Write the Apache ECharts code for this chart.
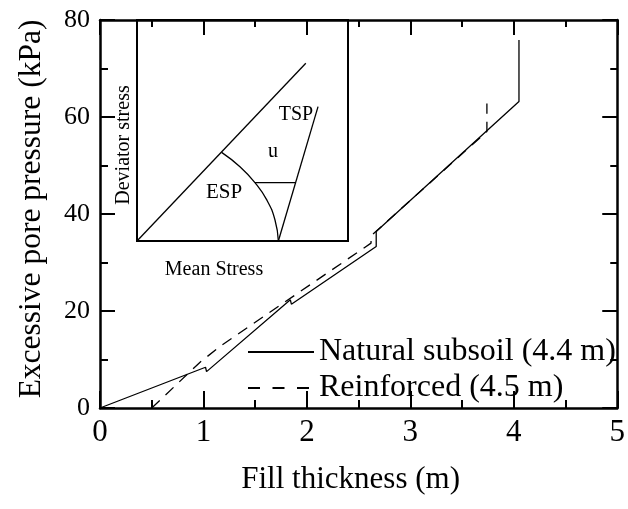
<!DOCTYPE html>
<html>
<head>
<meta charset="utf-8">
<script src="https://cdn.jsdelivr.net/npm/echarts@6/dist/echarts.min.js"></script>
<style>html,body{margin:0;padding:0;background:#fff;}#c{width:628px;height:509px;}</style>
</head>
<body>
<div id="c"></div>
<script>
// Main chart data
var xTicks = [0, 1, 2, 3, 4, 5];
var yTicks = [0, 20, 40, 60, 80];
var seriesNames = ['Natural subsoil (4.4 m)', 'Reinforced (4.5 m)'];
var naturalX = [0, 1.02, 1.03, 1.84, 1.85, 2.67, 2.67, 4.05, 4.05];
var naturalY = [0, 8.4, 7.5, 22.3, 21.4, 33.3, 36.4, 63.2, 75.9];
var reinforcedX = [0.5, 0.97, 1.18, 2.62, 2.62, 3.74, 3.74];
var reinforcedY = [0, 9.5, 13.0, 34.0, 35.5, 57.0, 62.8];

// Inset (schematic stress paths), normalized 0-100 coordinates
var failureX = [0, 80];
var failureY = [0, 80.4];
var espX = [40.1, 48.8, 55.9, 61.5, 65.4, 67.0];
var espY = [40.1, 33.6, 26.4, 18.6, 9.5, 0];
var tspX = [67.0, 85.8];
var tspY = [0, 60.8];
var uLineX = [55.9, 75.3];
var uLineY = [26.4, 26.4];

function pairs(xs, ys) { return xs.map(function (x, i) { return [x, ys[i]]; }); }

var FONT = "'Liberation Serif', 'Times New Roman', serif";
var chart = echarts.init(document.getElementById('c'), null, {renderer: 'canvas'});

var lineW = 1.3;
var axW = 2.5;
var tickStyle = {color: '#000', width: 2};

var option = {
  backgroundColor: '#fff',
  animation: false,
  grid: [
    {left: 100, right: 6, top: 20, bottom: 101},
    {left: 137, top: 20, width: 211, height: 221, show: true, borderColor: '#000', borderWidth: 2, backgroundColor: 'transparent'}
  ],
  legend: {
    orient: 'vertical',
    left: 247, top: 336, padding: 0,
    itemWidth: 66, itemHeight: 1.5, itemGap: 4,
    textStyle: {fontFamily: FONT, fontSize: 32, color: '#000'},
    data: [
      {name: seriesNames[0]},
      {name: seriesNames[1], lineStyle: {type: [12, 12.5]}}
    ]
  },
  xAxis: [
    {
      gridIndex: 0, type: 'value', min: 0, max: 5, interval: 1, position: 'bottom',
      name: 'Fill thickness (m)', nameLocation: 'middle', nameGap: 56,
      nameTextStyle: {fontFamily: FONT, fontSize: 31, color: '#000', padding: [0, 16, 0, 0]},
      axisLine: {show: true, onZero: false, lineStyle: {color: '#000', width: axW}},
      axisTick: {show: true, inside: true, length: 17, lineStyle: tickStyle},
      minorTick: {show: true, splitNumber: 2, length: 8, lineStyle: tickStyle},
      splitLine: {show: false},
      axisLabel: {fontFamily: FONT, fontSize: 31, color: '#000', margin: 9,
        formatter: function (v) { return xTicks.indexOf(v) >= 0 ? String(v) : ''; }}
    },
    {
      gridIndex: 0, type: 'value', min: 0, max: 5, interval: 1, position: 'top',
      axisLine: {show: true, onZero: false, lineStyle: {color: '#000', width: axW}},
      axisTick: {show: true, inside: true, length: 15, lineStyle: tickStyle},
      minorTick: {show: true, splitNumber: 2, length: 7, lineStyle: tickStyle},
      splitLine: {show: false}, axisLabel: {show: false}
    },
    {gridIndex: 1, type: 'value', min: 0, max: 100, show: false}
  ],
  yAxis: [
    {
      gridIndex: 0, type: 'value', min: 0, max: 80, interval: 20, position: 'left',
      name: 'Excessive pore pressure (kPa)', nameLocation: 'middle', nameGap: 52,
      nameTextStyle: {fontFamily: FONT, fontSize: 31.5, color: '#000', padding: [0, 0, 0, 10]},
      axisLine: {show: true, onZero: false, lineStyle: {color: '#000', width: axW}},
      axisTick: {show: true, inside: true, length: 15, lineStyle: tickStyle},
      minorTick: {show: true, splitNumber: 2, length: 8, lineStyle: tickStyle},
      splitLine: {show: false},
      axisLabel: {fontFamily: FONT, fontSize: 26, color: '#000', margin: 10,
        formatter: function (v) { return yTicks.indexOf(v) >= 0 ? String(v) : ''; }}
    },
    {
      gridIndex: 0, type: 'value', min: 0, max: 80, interval: 20, position: 'right',
      axisLine: {show: true, onZero: false, lineStyle: {color: '#000', width: axW}},
      axisTick: {show: true, inside: true, length: 15, lineStyle: tickStyle},
      minorTick: {show: true, splitNumber: 2, length: 7, lineStyle: tickStyle},
      splitLine: {show: false}, axisLabel: {show: false}
    },
    {gridIndex: 1, type: 'value', min: 0, max: 100, show: false}
  ],
  series: [
    {
      name: seriesNames[0], type: 'line', xAxisIndex: 0, yAxisIndex: 0,
      data: pairs(naturalX, naturalY), symbol: 'none', showSymbol: false,
      lineStyle: {color: '#000', width: lineW, type: 'solid'}, itemStyle: {color: '#000'}
    },
    {
      name: seriesNames[1], type: 'line', xAxisIndex: 0, yAxisIndex: 0,
      data: pairs(reinforcedX, reinforcedY), symbol: 'none', showSymbol: false,
      lineStyle: {color: '#000', width: lineW, type: [11, 8]}, itemStyle: {color: '#000'}
    },
    {
      type: 'line', xAxisIndex: 2, yAxisIndex: 2, data: pairs(failureX, failureY),
      symbol: 'none', lineStyle: {color: '#000', width: lineW}
    },
    {
      type: 'line', xAxisIndex: 2, yAxisIndex: 2, data: pairs(espX, espY), smooth: true,
      symbol: 'none', lineStyle: {color: '#000', width: lineW}
    },
    {
      type: 'line', xAxisIndex: 2, yAxisIndex: 2, data: pairs(tspX, tspY),
      symbol: 'none', lineStyle: {color: '#000', width: lineW}
    },
    {
      type: 'line', xAxisIndex: 2, yAxisIndex: 2, data: pairs(uLineX, uLineY),
      symbol: 'none', lineStyle: {color: '#000', width: lineW}
    }
  ],
  graphic: [
    {type: 'text', x: 296, y: 115, style: {text: 'TSP', font: "20px " + FONT, fill: '#000', align: 'center', verticalAlign: 'middle'}},
    {type: 'text', x: 273, y: 152, style: {text: 'u', font: "20px " + FONT, fill: '#000', align: 'center', verticalAlign: 'middle'}},
    {type: 'text', x: 224, y: 192, style: {text: 'ESP', font: "21px " + FONT, fill: '#000', align: 'center', verticalAlign: 'middle'}},
    {type: 'text', x: 214, y: 270, style: {text: 'Mean Stress', font: "20px " + FONT, fill: '#000', align: 'center', verticalAlign: 'middle'}},
    {type: 'text', x: 124, y: 145, rotation: Math.PI / 2, style: {text: 'Deviator stress', font: "20px " + FONT, fill: '#000', align: 'center', verticalAlign: 'middle'}}
  ]
};
chart.setOption(option);
</script>
</body>
</html>
